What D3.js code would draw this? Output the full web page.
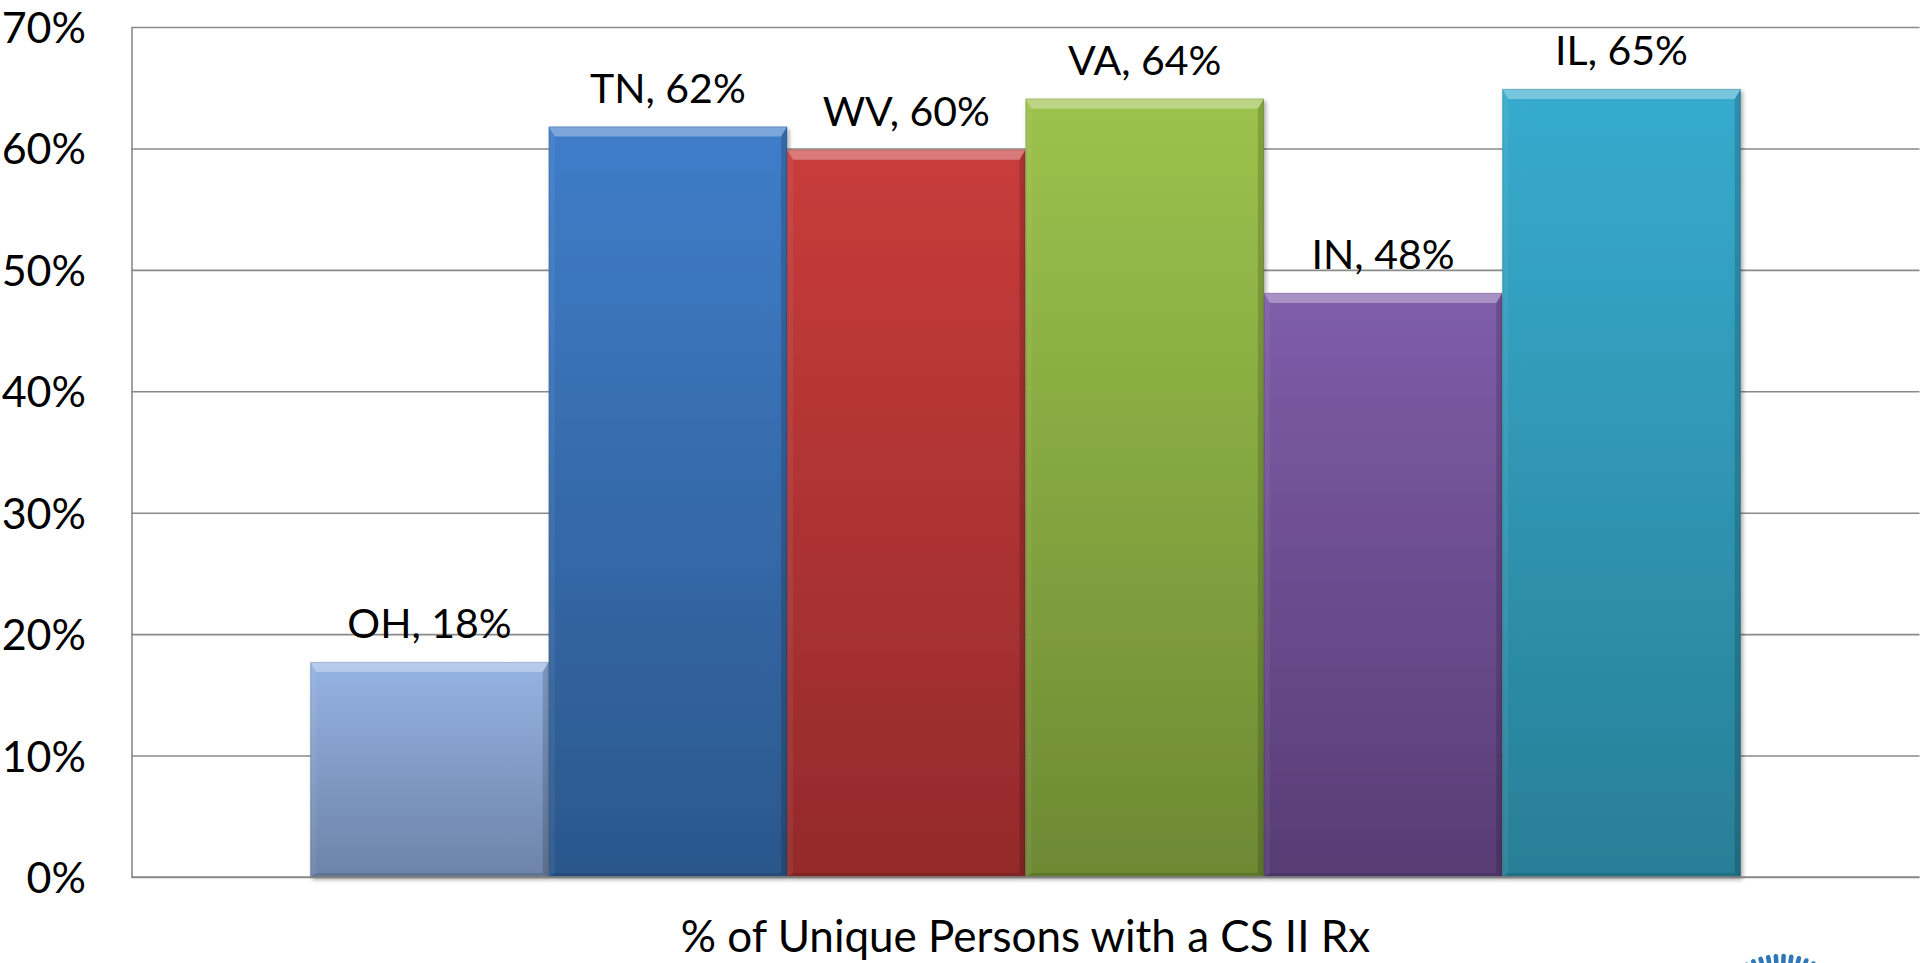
<!DOCTYPE html>
<html>
<head>
<meta charset="utf-8">
<script src="https://cdn.jsdelivr.net/npm/d3@7"></script>
<style>
  html, body { margin: 0; padding: 0; background: #ffffff; overflow: hidden; }
  svg { display: block; }
  text { font-family: Lato, "Open Sans", sans-serif; fill: #000; }
</style>
</head>
<body>
<svg id="chart" width="1920" height="963"></svg>
<script>
// ---- data ----
const states = ["OH", "TN", "WV", "VA", "IN", "IL"];
const values = [0.177, 0.618, 0.599, 0.641, 0.481, 0.649];
const labels = ["OH, 18%", "TN, 62%", "WV, 60%", "VA, 64%", "IN, 48%", "IL, 65%"];
const topColors = ["#95B3E3", "#3F7DC9", "#C93C3B", "#9CC24C", "#7F5DA9", "#37ABCE"];
const bottomColors = ["#6D83A8", "#2B578B", "#932A2B", "#6C8933", "#573C74", "#287F96"];
const yTicks = [0, 0.1, 0.2, 0.3, 0.4, 0.5, 0.6, 0.7];
const axisTitle = "% of Unique Persons with a CS II Rx";

// ---- layout ----
const W = 1920, H = 963;
const plot = { left: 131.5, right: 1919.5, top: 27, bottom: 877 };

const svg = d3.select("#chart");
const defs = svg.append("defs");

const x = d3.scaleBand().domain(states).range([plot.left, plot.right])
  .paddingInner(0).paddingOuter(0.75);
const y = d3.scaleLinear().domain([0, 0.7]).range([plot.bottom, plot.top]);

// gradients
states.forEach((s, i) => {
  const g = defs.append("linearGradient").attr("id", "grad" + i)
    .attr("x1", 0).attr("y1", 0).attr("x2", 0).attr("y2", 1);
  g.append("stop").attr("offset", "0%").attr("stop-color", topColors[i]);
  g.append("stop").attr("offset", "100%").attr("stop-color", bottomColors[i]);
});
const sh = defs.append("filter").attr("id", "shadow")
  .attr("x", "-5%").attr("y", "-5%").attr("width", "115%").attr("height", "115%");
sh.append("feDropShadow").attr("dx", 2).attr("dy", 2.5).attr("stdDeviation", 2)
  .attr("flood-color", "#000").attr("flood-opacity", 0.35);

// gridlines + y axis
const yAxis = d3.axisLeft(y)
  .tickValues(yTicks)
  .tickFormat(d3.format(".0%"))
  .tickSize(-(plot.right - plot.left))
  .tickSizeOuter(0)
  .tickPadding(plot.left - 86);
const gy = svg.append("g").attr("transform", `translate(${plot.left},0)`).call(yAxis);
gy.selectAll(".tick line").attr("stroke", "#8a8a8a").attr("stroke-width", 1.6);
gy.select(".domain").attr("stroke", "#8a8a8a").attr("stroke-width", 1.6);
gy.selectAll(".tick text")
  .attr("font-family", "Lato, sans-serif")
  .attr("font-size", 43)
  .attr("fill", "#000")
  .attr("dy", "0.36em");

// bars
const bars = svg.append("g").selectAll("g.bar").data(states).join("g").attr("class", "bar");
bars.each(function (s, i) {
  const g = d3.select(this);
  const x0 = x(s), x1 = x(s) + x.bandwidth();
  const y0 = y(values[i]), y1 = y(0);
  const b = 10, bs = 6;
  g.append("rect")
    .attr("x", x0).attr("y", y0)
    .attr("width", x1 - x0).attr("height", y1 - y0)
    .attr("fill", `url(#grad${i})`)
    .attr("filter", "url(#shadow)");
  // bevel: top
  g.append("polygon")
    .attr("points", [[x0, y0], [x1, y0], [x1 - bs, y0 + b], [x0 + bs, y0 + b]].join(" "))
    .attr("fill", "#fff").attr("fill-opacity", 0.32);
  // left
  g.append("polygon")
    .attr("points", [[x0, y0], [x0 + bs, y0 + b], [x0 + bs, y1 - 4], [x0, y1]].join(" "))
    .attr("fill", "#fff").attr("fill-opacity", 0.06);
  // right
  g.append("polygon")
    .attr("points", [[x1, y0], [x1 - bs, y0 + b], [x1 - bs, y1 - 4], [x1, y1]].join(" "))
    .attr("fill", "#000").attr("fill-opacity", 0.16);
  // bottom
  g.append("polygon")
    .attr("points", [[x0, y1], [x0 + bs, y1 - 4], [x1 - bs, y1 - 4], [x1, y1]].join(" "))
    .attr("fill", "#000").attr("fill-opacity", 0.12);
  // outline
  g.append("rect")
    .attr("x", x0 + 0.5).attr("y", y0 + 0.5)
    .attr("width", x1 - x0 - 1).attr("height", y1 - y0 - 1)
    .attr("fill", "none").attr("stroke", "#000").attr("stroke-opacity", 0.12);
});

// bottom axis line
svg.append("line")
  .attr("x1", plot.left).attr("x2", plot.right)
  .attr("y1", y(0)).attr("y2", y(0))
  .attr("stroke", "#8a8a8a").attr("stroke-width", 1.6);

// value labels
svg.append("g").selectAll("text").data(states).join("text")
  .attr("x", d => x(d) + x.bandwidth() / 2)
  .attr("y", (d, i) => y(values[i]) - 24)
  .attr("text-anchor", "middle")
  .attr("font-size", 41)
  .text((d, i) => labels[i]);

// axis title
svg.append("text")
  .attr("x", (plot.left + plot.right) / 2)
  .attr("y", 952)
  .attr("text-anchor", "middle")
  .attr("font-size", 44)
  .text(axisTitle);

// partial logo (radial dashes) at bottom right
const logo = svg.append("g").attr("transform", "translate(1781,1030)");
const angles = d3.range(-130, -49, 6);
logo.selectAll("line").data(angles).join("line")
  .attr("x1", a => 60 * Math.cos(a * Math.PI / 180))
  .attr("y1", a => 60 * Math.sin(a * Math.PI / 180))
  .attr("x2", a => 74 * Math.cos(a * Math.PI / 180))
  .attr("y2", a => 74 * Math.sin(a * Math.PI / 180))
  .attr("stroke", "#2f78b8").attr("stroke-width", 4.5).attr("stroke-linecap", "round");
</script>
</body>
</html>
